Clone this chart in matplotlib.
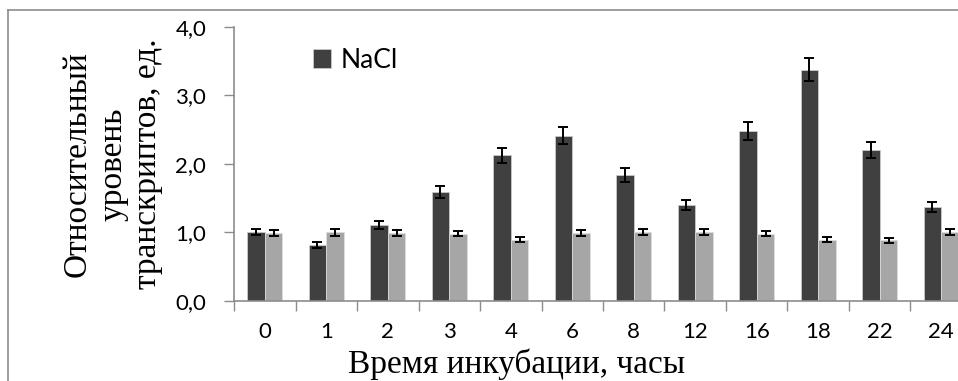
import numpy as np
import matplotlib
matplotlib.use("Agg")
import matplotlib.pyplot as plt
from matplotlib.lines import Line2D

# ---- data ----
hours = ['0', '1', '2', '3', '4', '6', '8', '12', '16', '18', '22', '24']
nacl = [1.00, 0.81, 1.10, 1.59, 2.12, 2.41, 1.83, 1.40, 2.48, 3.37, 2.20, 1.37]
nacl_err = [0.04, 0.04, 0.06, 0.085, 0.11, 0.12, 0.10, 0.075, 0.13, 0.17, 0.12, 0.075]
control = [0.99, 1.00, 0.99, 0.98, 0.89, 0.99, 1.00, 1.00, 0.98, 0.89, 0.88, 1.00]
control_err = [0.04, 0.05, 0.04, 0.04, 0.035, 0.04, 0.04, 0.04, 0.04, 0.035, 0.035, 0.04]
yticks = [0, 1, 2, 3, 4]
ytick_labels = ['0,0', '1,0', '2,0', '3,0', '4,0']

W, H = 958, 381
fig = plt.figure(figsize=(W / 100, H / 100), dpi=100)

# axes extends past the right edge (chart is cropped there)
ax = fig.add_axes([234 / W, 80.3 / H, 738 / W, 274 / H])

x = np.arange(len(hours))
bw = 0.285
dark = '#404040'
light = '#a6a6a6'
ekw = dict(ecolor='black', elinewidth=1.4, capsize=3.8, capthick=1.4)

b1 = ax.bar(x - bw / 2, nacl, bw, color=dark, edgecolor='#d0d0d0', linewidth=0.5,
            yerr=nacl_err, error_kw=ekw, label='NaCl', zorder=2)
ax.bar(x + bw / 2, control, bw, color=light, edgecolor='#e0e0e0', linewidth=0.5,
       yerr=control_err, error_kw=ekw, zorder=2)

ax.set_xlim(-0.5, len(hours) - 0.5)
ax.set_ylim(0, 4)
ax.set_yticks(yticks)
ax.set_yticklabels(ytick_labels, fontsize=16, family='Lato')
ax.set_xticks(x)
ax.set_xticklabels(hours, fontsize=16, family='Lato')
ax.set_xticks(np.arange(len(hours) + 1) - 0.5, minor=True)
ax.tick_params(axis='x', which='major', length=0, pad=15)
ax.tick_params(axis='x', which='minor', length=7, width=1, color='#8c8c8c', direction='out')
ax.tick_params(axis='y', length=7, width=1, color='#8c8c8c', direction='out', pad=13)

for s in ['top', 'right']:
    ax.spines[s].set_visible(False)
for s in ['left', 'bottom']:
    ax.spines[s].set_color('#8c8c8c')
    ax.spines[s].set_linewidth(1.2)

fig.text(517 / W, 1 - 364 / H, 'Время инкубации, часы', ha='center', va='center',
         fontsize=24, family='Liberation Serif')
fig.text(113 / W, 1 - 164 / H, 'Относительный\nуровень\nтранскриптов, ед.',
         rotation=90, ha='center', va='center', fontsize=24,
         family='Liberation Serif', linespacing=1.2)

# legend
ax.legend(handles=[b1], labels=['NaCl'], loc='center left', frameon=False,
          bbox_to_anchor=(313 / W, 1 - 60 / H), bbox_transform=fig.transFigure,
          borderpad=0, borderaxespad=0, handlelength=0.7, handleheight=0.7,
          handletextpad=0.35, prop={'family': 'Lato', 'size': 19})

# outer chart border (cropped on right and bottom)
fig.add_artist(Line2D([8 / W, 8 / W], [0, 1 - 10 / H], transform=fig.transFigure,
                      color='#8c8c8c', lw=1.2))
fig.add_artist(Line2D([8 / W, 1], [1 - 10 / H, 1 - 10 / H], transform=fig.transFigure,
                      color='#8c8c8c', lw=1.2))

fig.savefig('out.png', dpi=100)
